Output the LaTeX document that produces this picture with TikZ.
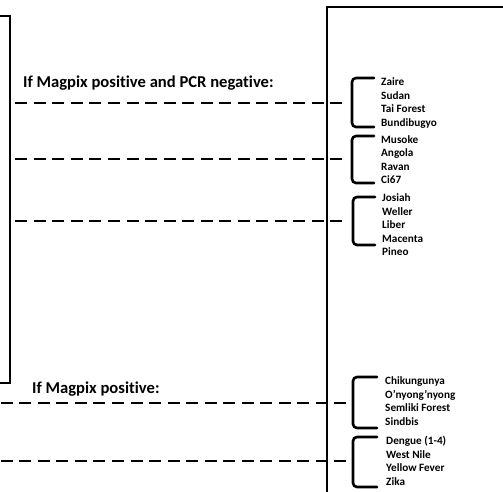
\documentclass[tikz,border=0pt]{standalone}
\usepackage{fontspec}
\setmainfont{Carlito}[Ligatures=NoCommon]
\begin{document}
\begin{tikzpicture}[x=1bp,y=-1bp,
  boxline/.style={line width=2.3bp,line join=miter},
  dashline/.style={line width=2.9bp,dash pattern=on 12bp off 6.5bp},
  bracket/.style={line width=2.6bp,rounded corners=4bp,line cap=round},
  head/.style={font=\fontsize{16.6bp}{19bp}\selectfont\bfseries,inner sep=0pt,anchor=base west},
  item/.style={font=\fontsize{11.2bp}{13.5bp}\selectfont\bfseries,inner sep=0pt,anchor=base west}]
\useasboundingbox (0,0) rectangle (503,492);
% boxes
\draw[boxline] (0,16) -- (10,16) -- (10,383) -- (0,383);
\draw[boxline] (503,7) -- (327,7) -- (327,492);
% headings
\node[head] (h1) at (23,88) {If Magpix positive and PCR negative:};
\node[head] (h2) at (32,393) {If Magpix positive:};
% dashed connector ends
\coordinate (s1) at (10,103);  \coordinate (e1) at (342,103);
\coordinate (s2) at (10,159);  \coordinate (e2) at (342,159);
\coordinate (s3) at (10,221);  \coordinate (e3) at (342,221);
\coordinate (s4) at (0,403);   \coordinate (e4) at (346,403);
\coordinate (s5) at (0,461);   \coordinate (e5) at (346,461);
\foreach \k in {1,...,5} \draw[dashline] (e\k) -- (s\k);
% brackets
\draw[bracket] (374,78) -- (352,78) -- (352,127) -- (374,127);
\draw[bracket] (374,136) -- (352,136) -- (352,183) -- (374,183);
\draw[bracket] (375,197) -- (353,197) -- (353,245) -- (375,245);
\draw[bracket] (377,377) -- (353,377) -- (353,428) -- (377,428);
\draw[bracket] (377,437) -- (353,437) -- (353,487) -- (377,487);
% lists
\foreach \t [count=\i] in {Zaire,Sudan,Tai Forest,Bundibugyo}
  \node[item] (a\i) at (381,{86+13.5*(\i-1)}) {\t};
\foreach \t [count=\i] in {Musoke,Angola,Ravan,Ci67}
  \node[item] (b\i) at (381,{143.5+13.5*(\i-1)}) {\t};
\foreach \t [count=\i] in {Josiah,Weller,Liber,Macenta,Pineo}
  \node[item] (c\i) at (382,{201.5+13.5*(\i-1)}) {\t};
\foreach \t [count=\i] in {Chikungunya,O’nyong’nyong,Semliki Forest,Sindbis}
  \node[item] (d\i) at (385,{384.5+13.5*(\i-1)}) {\t};
\foreach \t [count=\i] in {Dengue (1-4),West Nile,Yellow Fever,Zika}
  \node[item] (f\i) at (386,{444.5+13.5*(\i-1)}) {\t};
\end{tikzpicture}
\end{document}
